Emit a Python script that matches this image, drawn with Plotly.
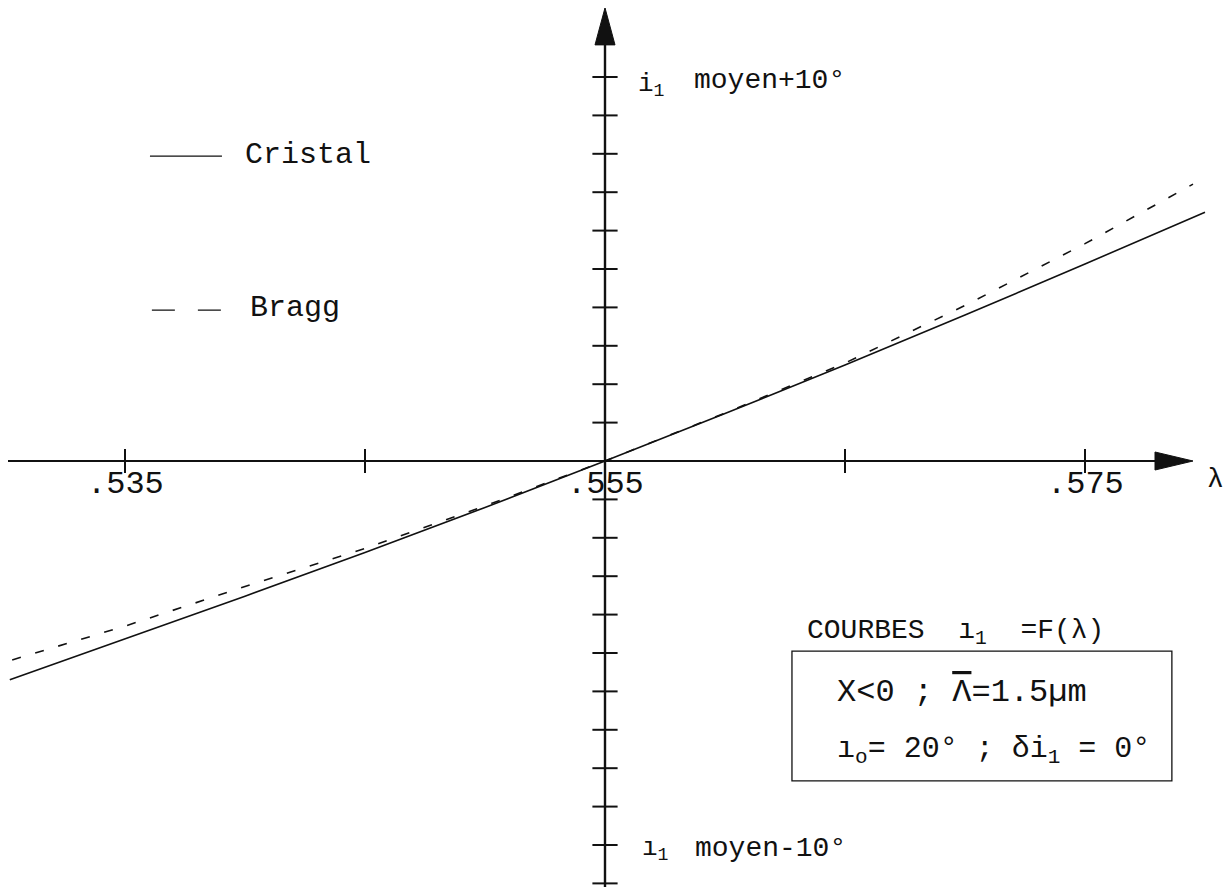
import plotly.graph_objects as go

# =========================================================
# Data (lambda in micrometres, angle in degrees
# relative to the mean value of i1)
# =========================================================

cristal_lambda = [0.5302, 0.535, 0.540, 0.545, 0.550, 0.555,
                  0.560, 0.565, 0.570, 0.575, 0.580]
cristal_i1 = [-5.70, -4.64, -3.52, -2.38, -1.21, 0.0,
              1.235, 2.50, 3.80, 5.13, 6.48]

bragg_lambda = [0.5303, 0.535, 0.540, 0.545, 0.550, 0.555,
                0.560, 0.565, 0.570, 0.575, 0.5795]
bragg_i1 = [-5.18, -4.30, -3.27, -2.28, -1.17, 0.0,
            1.25, 2.55, 4.05, 5.66, 7.21]

x_tick_vals = [0.535, 0.545, 0.565, 0.575]
x_tick_labels = [".535", ".555", ".575"]
x_label_vals = [0.535, 0.555, 0.575]
y_tick_vals = [-11, -10, -9, -8, -7, -6, -5, -4, -3, -2, -1,
               1, 2, 3, 4, 5, 6, 7, 8, 9, 10]

X0 = 0.555          # crossing point of the axes
FONT = "Liberation Mono"
INK = "#111111"

fig = go.Figure()

# curves
fig.add_trace(go.Scatter(
    x=cristal_lambda, y=cristal_i1, mode="lines",
    line=dict(color=INK, width=1.6), name="Cristal"
))
fig.add_trace(go.Scatter(
    x=bragg_lambda, y=bragg_i1, mode="lines",
    line=dict(color=INK, width=1.6, dash="9px,15px"), name="Bragg"
))

# tick marks across both axes
fig.add_trace(go.Scatter(
    x=[X0] * len(y_tick_vals), y=y_tick_vals, mode="markers",
    marker=dict(symbol="line-ew", size=18, line=dict(color=INK, width=2)),
    hoverinfo="skip"
))
fig.add_trace(go.Scatter(
    x=x_tick_vals, y=[0] * len(x_tick_vals), mode="markers",
    marker=dict(symbol="line-ns", size=17, line=dict(color=INK, width=2)),
    hoverinfo="skip"
))

shapes = [
    # horizontal axis
    dict(type="line", xref="paper", yref="y", x0=0.0, x1=0.9485, y0=0, y1=0,
         line=dict(color=INK, width=2.2)),
    # vertical axis
    dict(type="line", xref="x", yref="y", x0=X0, x1=X0, y0=-11.3, y1=11.0,
         line=dict(color=INK, width=2.4)),
    # arrow heads
    dict(type="path", xref="x", yref="y", xsizemode="pixel", ysizemode="pixel",
         xanchor=X0, yanchor=11.80, path="M0,0 L-10,-37 L10,-37 Z",
         fillcolor=INK, line=dict(color=INK, width=1)),
    dict(type="path", xref="x", yref="y", xsizemode="pixel", ysizemode="pixel",
         xanchor=0.5795, yanchor=0, path="M0,0 L-38,9 L-38,-9 Z",
         fillcolor=INK, line=dict(color=INK, width=1)),
    # legend samples
    dict(type="line", xref="x", yref="y", x0=0.53604, x1=0.53904, y0=7.94, y1=7.94,
         line=dict(color=INK, width=1.4)),
    dict(type="line", xref="x", yref="y", x0=0.53612, x1=0.53904, y0=3.93, y1=3.93,
         line=dict(color=INK, width=1.4, dash="23px,23px")),
    # caption box
    dict(type="rect", xref="x", yref="y", x0=0.56279, x1=0.57862, y0=-8.33, y1=-4.95,
         line=dict(color=INK, width=1.3)),
]

annotations = []


def note(text, x, y, size, xanchor="left"):
    annotations.append(dict(
        text=text, x=x, y=y, xref="x", yref="y", showarrow=False,
        xanchor=xanchor, yanchor="middle",
        font=dict(family=FONT, size=size, color=INK)
    ))


for val, lab in zip(x_label_vals, x_tick_labels):
    note(lab, val, -0.62, 32, "center")
note("λ", 0.58042, -0.47, 28, "center")

note("i<sub>1</sub>", 0.55629, 9.80, 26)
note("moyen+10°", 0.55862, 9.90, 28)
note("ı<sub>1</sub>", 0.55646, -10.10, 26)
note("moyen-10°", 0.55867, -10.08, 28)

note("Cristal", 0.53992, 7.97, 30)
note("Bragg", 0.54012, 3.98, 30)

note("COURBES  ı<sub>1</sub>  =F(λ)", 0.56333, -4.47, 28)
note("X<0 ; <span style='text-decoration:overline'>Λ</span>=1.5µm",
     0.56458, -6.02, 32)
note("ı<sub>o</sub>= 20° ; δi<sub>1</sub> = 0°", 0.56458, -7.53, 30)

fig.update_layout(
    width=1215,
    height=879,
    margin=dict(l=0, r=0, t=0, b=0),
    paper_bgcolor="white",
    plot_bgcolor="white",
    showlegend=False,
    shapes=shapes,
    annotations=annotations,
    xaxis=dict(range=[0.530125, 0.58075], visible=False, fixedrange=True),
    yaxis=dict(range=[-11.094, 11.797], visible=False, fixedrange=True),
)

fig.write_html("out.html")
